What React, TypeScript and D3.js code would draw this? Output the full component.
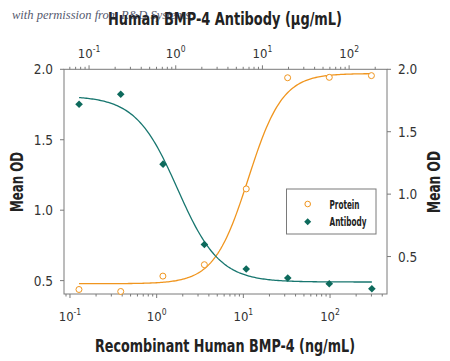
import React from "react";
import * as d3 from "d3";

// Protein: Recombinant Human BMP-4 (ng/mL) vs Mean OD (left axis)
const proteinConc = [0.127, 0.385, 1.18, 3.55, 10.8, 32.4, 98, 300];
const proteinOD = [0.437, 0.423, 0.532, 0.613, 1.151, 1.94, 1.943, 1.955];
// Antibody: Human BMP-4 Antibody (µg/mL) vs Mean OD (right axis)
const antibodyConc = [0.0767, 0.232, 0.714, 2.14, 6.5, 19.6, 59, 183];
const antibodyOD = [1.72, 1.8, 1.24, 0.597, 0.4, 0.328, 0.282, 0.242];
// 4-parameter logistic fit parameters [bottom, top, EC50, hill]
const proteinFit = [0.478, 1.97, 11.4, 2.2];
const antibodyFit = [0.296, 1.787, 1.05, 1.8];

const leftTicks = [0.5, 1.0, 1.5, 2.0];
const rightTicks = [0.5, 1.0, 1.5, 2.0];
const decades = [-1, 0, 1, 2];

const W = 450;
const H = 361;
const L = 64, R = 387, T = 69.3, B = 294;
const ORANGE = "#F0951E";
const TEAL = "#17766F";
const TEAL_PT = "#0D6A5C";
const AXIS = "#7a7a7a";
const FONT = "'DejaVu Sans', sans-serif";
const cond: React.CSSProperties = { fontStretch: "condensed" };

export default function App() {
  const xBottom = d3.scaleLog().domain([Math.pow(10, -1.069), Math.pow(10, 2.657)]).range([L, R]);
  const xTop = d3.scaleLog().domain([Math.pow(10, -1.289), Math.pow(10, 2.437)]).range([L, R]);
  const yLeft = d3.scaleLinear().domain([0.405, 2.0]).range([B, T]);
  const yRight = d3.scaleLinear().domain([0.2, 2.0]).range([B, T]);

  const logistic = (p: number[], x: number, increasing: boolean) => {
    const [bot, top, c, h] = p;
    const r = Math.pow(x / c, h);
    return increasing ? bot + (top - bot) * r / (1 + r) : bot + (top - bot) / (1 + r);
  };

  const curve = (xs: number[], fit: number[], inc: boolean, xs_: any, ys_: any) => {
    const lo = Math.log10(xs[0]);
    const hi = Math.log10(xs[xs.length - 1]);
    const pts: [number, number][] = d3.range(0, 201).map((i) => {
      const x = Math.pow(10, lo + (hi - lo) * i / 200);
      return [xs_(x), ys_(logistic(fit, x, inc))];
    });
    return d3.line()(pts) || "";
  };

  const minorTicks = (scale: any) => {
    const [d0, d1] = scale.domain();
    const out: number[] = [];
    for (let e = -3; e <= 3; e++) {
      for (let m = 2; m <= 9; m++) {
        const v = m * Math.pow(10, e);
        if (v >= d0 && v <= d1) out.push(v);
      }
    }
    return out;
  };

  const diamond = (cx: number, cy: number, r: number) =>
    `M${cx},${cy - r}L${cx + r},${cy}L${cx},${cy + r}L${cx - r},${cy}Z`;

  const tickLabel = (x: number, y: number, e: number, key: string) => (
    <text key={key} x={x} y={y} textAnchor="middle" fontFamily={FONT} fontSize={13} fill="#333" style={cond}>
      10<tspan fontSize={8.5} dy={-6}>{e}</tspan>
    </text>
  );

  return (
    <svg width={W} height={H} style={{ position: "absolute", left: 0, top: 0, background: "#fff" }}>
      {/* Titles */}
      <text x={108} y={25} textLength={234} lengthAdjust="spacingAndGlyphs" fontFamily={FONT} fontWeight="bold" fontSize={18} fill="#222" style={cond}>
        Human BMP-4 Antibody (µg/mL)
      </text>
      <text x={12} y={19} fontFamily="'Liberation Serif', 'DejaVu Serif', serif" fontStyle="italic" fontSize={12.5} fill="#2a2f4a" opacity={0.8}>
        with permission from R&amp;D Systems
      </text>
      <text x={95} y={352} textLength={260} lengthAdjust="spacingAndGlyphs" fontFamily={FONT} fontWeight="bold" fontSize={18} fill="#222" style={cond}>
        Recombinant Human BMP-4 (ng/mL)
      </text>
      <text transform="translate(23,212) rotate(-90)" textLength={60} lengthAdjust="spacingAndGlyphs" fontFamily={FONT} fontWeight="bold" fontSize={18.5} fill="#222" style={cond}>
        Mean OD
      </text>
      <text transform="translate(440,213) rotate(-90)" textLength={62} lengthAdjust="spacingAndGlyphs" fontFamily={FONT} fontWeight="bold" fontSize={18.5} fill="#222" style={cond}>
        Mean OD
      </text>

      {/* Frame */}
      <rect x={L} y={T} width={R - L} height={B - T} fill="none" stroke={AXIS} strokeWidth={1} />

      {/* Left axis */}
      {leftTicks.map((v) => (
        <g key={"l" + v}>
          <line x1={L - 4} x2={L} y1={yLeft(v)} y2={yLeft(v)} stroke={AXIS} />
          <text x={53} y={yLeft(v) + 5} textAnchor="end" fontFamily={FONT} fontSize={13.5} fill="#333" style={cond}>
            {v.toFixed(1)}
          </text>
        </g>
      ))}
      {/* Right axis */}
      {rightTicks.map((v) => (
        <g key={"r" + v}>
          <line x1={R} x2={R + 4} y1={yRight(v)} y2={yRight(v)} stroke={AXIS} />
          <text x={398} y={yRight(v) + 5} textAnchor="start" fontFamily={FONT} fontSize={13.5} fill="#333" style={cond}>
            {v.toFixed(1)}
          </text>
        </g>
      ))}
      {/* Bottom axis */}
      {decades.map((e) => (
        <g key={"b" + e}>
          <line x1={xBottom(Math.pow(10, e))} x2={xBottom(Math.pow(10, e))} y1={B} y2={B + 4} stroke={AXIS} />
          {tickLabel(xBottom(Math.pow(10, e)), 321, e, "bl" + e)}
        </g>
      ))}
      {minorTicks(xBottom).map((v, i) => (
        <line key={"bm" + i} x1={xBottom(v)} x2={xBottom(v)} y1={B} y2={B + 2.5} stroke={AXIS} />
      ))}
      {/* Top axis */}
      {decades.map((e) => (
        <g key={"t" + e}>
          <line x1={xTop(Math.pow(10, e))} x2={xTop(Math.pow(10, e))} y1={T} y2={T - 4} stroke={AXIS} />
          {tickLabel(xTop(Math.pow(10, e)), 58, e, "tl" + e)}
        </g>
      ))}
      {minorTicks(xTop).map((v, i) => (
        <line key={"tm" + i} x1={xTop(v)} x2={xTop(v)} y1={T} y2={T - 2.5} stroke={AXIS} />
      ))}

      {/* Curves */}
      <path d={curve(proteinConc, proteinFit, true, xBottom, yLeft)} fill="none" stroke={ORANGE} strokeWidth={1.3} />
      <path d={curve(antibodyConc, antibodyFit, false, xTop, yRight)} fill="none" stroke={TEAL} strokeWidth={1.3} />

      {/* Points */}
      {proteinConc.map((c, i) => (
        <circle key={"p" + i} cx={xBottom(c)} cy={yLeft(proteinOD[i])} r={3} fill="#fff" stroke={ORANGE} strokeWidth={1} />
      ))}
      {antibodyConc.map((c, i) => (
        <path key={"a" + i} d={diamond(xTop(c), yRight(antibodyOD[i]), 3.8)} fill={TEAL_PT} />
      ))}

      {/* Legend */}
      <rect x={286.5} y={189} width={89.5} height={45} fill="#fff" stroke={AXIS} strokeWidth={1} />
      <circle cx={307.7} cy={204} r={2.8} fill="#fff" stroke={ORANGE} strokeWidth={1} />
      <path d={diamond(307.7, 221.7, 3.5)} fill={TEAL_PT} />
      <text x={329.5} y={208.5} textLength={30} lengthAdjust="spacingAndGlyphs" fontFamily={FONT} fontWeight="bold" fontSize={12.5} fill="#222" style={cond}>Protein</text>
      <text x={329.5} y={226} textLength={37} lengthAdjust="spacingAndGlyphs" fontFamily={FONT} fontWeight="bold" fontSize={12.5} fill="#222" style={cond}>Antibody</text>
    </svg>
  );
}
